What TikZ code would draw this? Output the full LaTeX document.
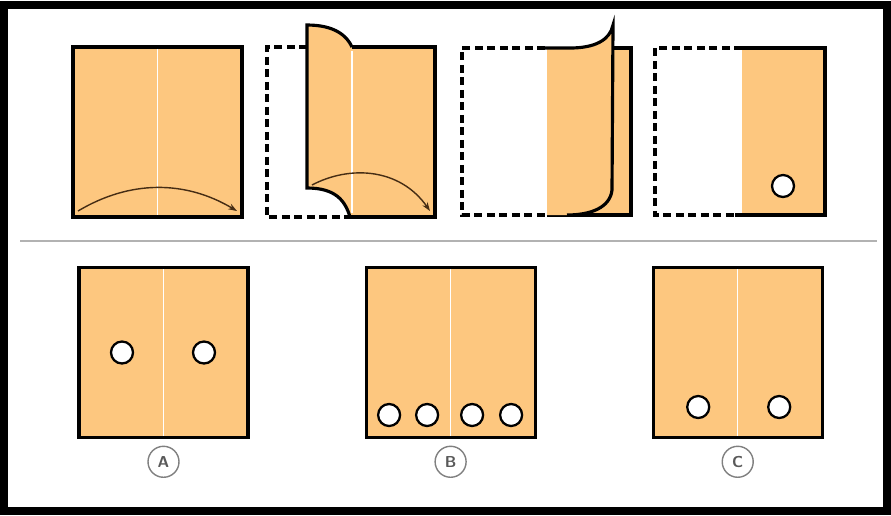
\documentclass[tikz,border=0pt]{standalone}
\usetikzlibrary{positioning, arrows.meta, calc}
\definecolor{paper}{RGB}{253,199,127}
\definecolor{arrowbrown}{RGB}{70,45,20}
\tikzset{
  % paper square
  sheet/.style={
    draw, line width=1.8pt, fill=paper,
    inner sep=0pt, minimum width=3.38cm, minimum height=3.4cm
  },
  % punched hole
  hole/.style={
    circle, draw, fill=white, line width=1.3pt,
    inner sep=0pt, minimum size=0.44cm
  },
  % fold line
  crease/.style={white, line width=0.7pt, shorten >=2pt, shorten <=2pt},
  % outline of the part that was folded away
  ghost/.style={dash pattern=on 0.16cm off 0.09cm, line width=1.8pt},
  rim/.style={line width=1.8pt},
  foldarrow/.style={-{Stealth[length=5pt, width=3.5pt]}, arrowbrown, line width=0.8pt},
  % answer letter
  choice/.style={
    circle, draw=gray, line width=0.8pt, text=black!65,
    font=\sffamily\small\bfseries, minimum size=0.62cm, inner sep=0pt
  }
}

\begin{document}
\begin{tikzpicture}[x=0.02cm, y=-0.02cm]
  \useasboundingbox (0,0) rectangle (891,515);
  \draw[line width=0.16cm] (4,5) rectangle (887,511);

  %% ── Step 1: flat sheet ──
  \node[sheet] (sqOne) at (157.5,132) {};
  \draw[crease] (sqOne.north) -- (sqOne.south);
  \coordinate (oneFrom) at (78,211);
  \coordinate (oneTo)   at (237,211);
  \draw[foldarrow] (oneFrom) .. controls (130,180) and (185,180) .. (oneTo);

  %% ── Step 2: left half lifting ──
  \fill[paper] (352,47) rectangle (435,217);
  \fill[paper] (307,25) .. controls (335,25) and (347,36) .. (352,47) -- (352,217)
    -- (350,217) .. controls (345,200) and (335,188) .. (307,188) -- cycle;
  \draw[crease] (352,47) -- (352,217);
  \draw[ghost] (307,47) -- (267,47) -- (267,217) -- (350,217);
  \draw[rim] (352,47) -- (435,47) -- (435,217) -- (350,217);
  \draw[rim] (352,47) .. controls (347,36) and (335,25) .. (307,25) -- (307,188)
    .. controls (335,188) and (345,200) .. (350,217);
  \coordinate (twoFrom) at (312,185);
  \coordinate (twoTo)   at (430,211);
  \draw[foldarrow] (twoFrom) .. controls (350,165) and (400,168) .. (twoTo);

  %% ── Step 3: folded over ──
  \fill[paper] (547,48) rectangle (631,215);
  \draw[ghost] (545,48) -- (462,48) -- (462,215) -- (547,215);
  \draw[rim] (612,48) -- (631,48) -- (631,215) -- (547,215);
  \fill[paper] (547,48) -- (570,48) .. controls (595,48) and (610,40) .. (613,25)
    -- (612,190) .. controls (610,208) and (590,215) .. (567,215) -- (547,215) -- cycle;
  \draw[rim] (543,48) -- (570,48) .. controls (595,48) and (610,40) .. (613,25)
    -- (612,190) .. controls (610,208) and (590,215) .. (567,215);

  %% ── Step 4: punched ──
  \fill[paper] (742,48) rectangle (825,215);
  \draw[ghost] (742,48) -- (655,48) -- (655,215) -- (742,215);
  \draw[rim] (742,48) -- (825,48) -- (825,215) -- (735,215);
  \node[hole] (punch) at (783,186) {};

  %% ── Separator ──
  \draw[gray!60, line width=0.8pt] (20,241) -- (877,241);

  %% ── Answers ──
  \node[sheet] (sqA) at (163.5,352.5) {};
  \node[sheet, right=2.3cm of sqA] (sqB) {};
  \node[sheet, right=2.3cm of sqB] (sqC) {};
  \foreach \sq in {sqA, sqB, sqC}
    \draw[crease] (\sq.north) -- (\sq.south);

  \node[hole] (holeA1) at ($(sqA.center)+(-41.5,0)$) {};
  \node[hole] (holeA2) at ($(sqA.center)+(40.5,0)$) {};

  \node[hole] (holeB1) at ($(sqB.center)+(-61.5,62.5)$) {};
  \node[hole] (holeB2) at ($(sqB.center)+(-23.5,62.5)$) {};
  \node[hole] (holeB3) at ($(sqB.center)+(21.5,62.5)$) {};
  \node[hole] (holeB4) at ($(sqB.center)+(60.5,62.5)$) {};

  \node[hole] (holeC1) at ($(sqC.center)+(-39.5,54.5)$) {};
  \node[hole] (holeC2) at ($(sqC.center)+(41.5,54.5)$) {};

  \node[choice, below=0.13cm of sqA] (optA) {A};
  \node[choice, below=0.13cm of sqB] (optB) {B};
  \node[choice, below=0.13cm of sqC] (optC) {C};

\end{tikzpicture}
\end{document}
